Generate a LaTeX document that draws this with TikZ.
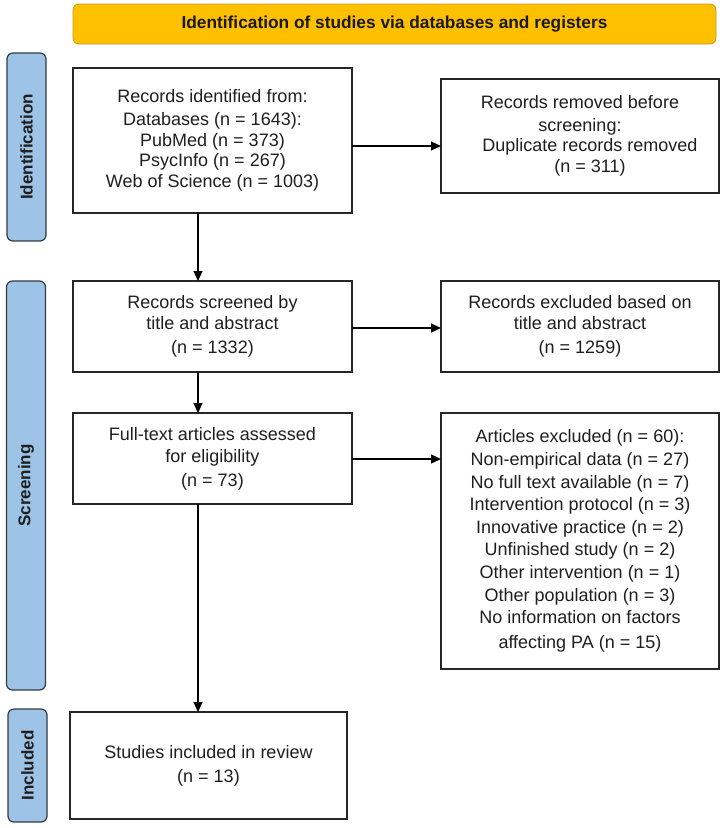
\documentclass[tikz,border=0pt]{standalone}
\usepackage{fontspec}
\setmainfont{Liberation Sans}
\usetikzlibrary{arrows.meta}
\definecolor{bannerfill}{HTML}{FFC000}
\definecolor{bannerdraw}{HTML}{C49A1C}
\definecolor{sidefill}{HTML}{9DC3E6}
\definecolor{sidedraw}{HTML}{333B45}
\tikzset{
  box/.style={draw=black!85, line width=1.3pt, fill=white, inner sep=0pt, outer sep=0pt,
    align=center, text=black!88, font=\fontsize{18}{20.5}\selectfont},
  side/.style={draw=sidedraw, fill=sidefill, rounded corners=6pt, line width=1.2pt,
    inner sep=0pt, outer sep=0pt, rotate=90, text=black!88,
    font=\bfseries\fontsize{17}{20}\selectfont},
  banner/.style={draw=bannerdraw, fill=bannerfill, rounded corners=6pt, line width=0.8pt,
    inner sep=0pt, outer sep=0pt, text=black!90, font=\bfseries\fontsize{17.3}{20}\selectfont},
  arr/.style={-{Triangle[length=10pt,width=9pt]}, line width=1.2pt, draw=black}
}
\begin{document}
\begin{tikzpicture}[x=1pt,y=-1pt]
\useasboundingbox (0,0) rectangle (723,828);
% banner
\node[banner, minimum width=643pt, minimum height=40pt] (ban) at (394.5,24)
  {Identification of studies via databases and registers};
% side labels
\node[side, minimum width=188pt, minimum height=39pt] (lid) at (26.5,147) {Identification};
\node[side, minimum width=409pt, minimum height=39pt] (lsc) at (26,485.5) {Screening};
\node[side, minimum width=113pt, minimum height=39pt] (lin) at (27.5,765.5) {Included};
% boxes
\node[box, minimum width=279pt, minimum height=145pt] (b1) at (212.5,140.5)
  {Records identified from:\\[2.5pt] Databases (n = 1643):\\ PubMed (n = 373)\\ PsycInfo (n = 267)\\ Web of Science (n = 1003)};
\node[box, minimum width=278pt, minimum height=114pt] (b2) at (580,136)
  {Records removed before\\[2pt] screening:\\ \hspace*{20pt}Duplicate records removed\\ \hspace*{20pt}(n = 311)};
\node[box, minimum width=279pt, minimum height=91pt] (b3) at (212.5,326.5)
  {Records screened by\\ title and abstract\\[3.5pt] (n = 1332)};
\node[box, minimum width=278pt, minimum height=91pt] (b4) at (580,326.5)
  {Records excluded based on\\ title and abstract\\[3.5pt] (n = 1259)};
\node[box, minimum width=279pt, minimum height=91pt] (b5) at (212.5,458.5)
  {Full-text articles assessed\\[1.5pt] for eligibility\\[3.5pt] (n = 73)};
\node[box, minimum width=278pt, minimum height=256pt, font=\fontsize{18}{22.6}\selectfont] (b6) at (580,541)
  {Articles excluded (n = 60):\\ Non-empirical data (n = 27)\\ No full text available (n = 7)\\
   Intervention protocol (n = 3)\\ Innovative practice (n = 2)\\ Unfinished study (n = 2)\\
   Other intervention (n = 1)\\ Other population (n = 3)\\ No information on factors\\[2pt]
   affecting PA (n = 15)};
\node[box, minimum width=277pt, minimum height=107pt] (b7) at (208.5,765.5)
  {Studies included in review\\[3.5pt] (n = 13)};
% arrow guides
\coordinate (ax) at (198,0);
\coordinate (ay1) at (0,146);
\coordinate (ay2) at (0,328);
\coordinate (ay3) at (0,459);
% connectors
\draw[arr] (b1.south -| ax) -- (b3.north -| ax);
\draw[arr] (b3.south -| ax) -- (b5.north -| ax);
\draw[arr] (b5.south -| ax) -- (b7.north -| ax);
\draw[arr] (b1.east |- ay1) -- (b2.west |- ay1);
\draw[arr] (b3.east |- ay2) -- (b4.west |- ay2);
\draw[arr] (b5.east |- ay3) -- (b6.west |- ay3);
\end{tikzpicture}
\end{document}
